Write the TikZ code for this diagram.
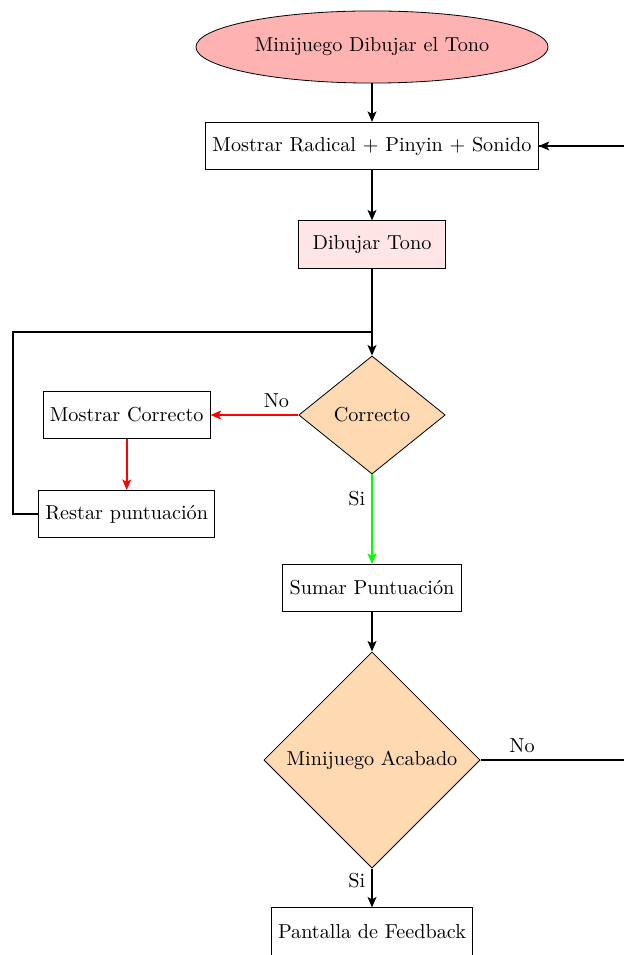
\documentclass[tikz,border=0pt]{standalone}
\usetikzlibrary{shapes.geometric,arrows.meta}

\tikzset{
  px/.style={x=0.495pt,y=-0.495pt},
  startnode/.style={ellipse,draw,fill=red!30,minimum width=174.3pt,minimum height=35.7pt},
  procbox/.style={rectangle,draw,minimum height=23.4pt},
  decision/.style={diamond,draw,fill=orange!30,aspect=1},
  flow/.style={thick,-{Stealth[length=5.2pt,width=4.4pt,inset=1.2pt]}},
  plain/.style={thick},
  lbl/.style={inner sep=3pt}
}

\begin{document}
\begin{tikzpicture}[px]
  \useasboundingbox (0,0) rectangle (623,955);

  % nodes of the flow
  \node[startnode] (start) at (372,47) {Minijuego Dibujar el Tono};
  \node[procbox] (show) at (372,146) {Mostrar Radical + Pinyin + Sonido};
  \node[procbox,fill=red!10,minimum width=72.5pt] (draw) at (372,244.5) {Dibujar Tono};
  \node[decision,minimum width=72.5pt] (ok) at (372,415) {Correcto};
  \node[procbox] (showok) at (126.7,415) {Mostrar Correcto};
  \node[procbox] (minus) at (126.7,514) {Restar puntuaci\'on};
  \node[procbox] (plus) at (372,588) {Sumar Puntuaci\'on};
  \node[decision] (done) at (372,760) {Minijuego Acabado};
  \node[procbox] (feedback) at (372,931.5) {Pantalla de Feedback};

  % helper points for the loops
  \coordinate (join) at (372,332);
  \coordinate (leftx) at (13,0);
  \coordinate (rightx) at (640,0);

  % main path
  \draw[flow] (start) -- (show);
  \draw[flow] (show) -- (draw);
  \draw[flow] (draw) -- (ok);

  % wrong answer branch
  \draw[flow,red] (ok.west) -- node[lbl,above,black,pos=0.25] {No} (showok.east);
  \draw[flow,red] (showok) -- (minus);
  \draw[plain] (minus.west) -- (leftx |- minus.west) |- (join);

  % right answer branch
  \draw[flow,green] (ok.south) -- node[lbl,left,black,pos=0.27] {Si} (plus.north);
  \draw[flow] (plus) -- (done);
  \draw[flow] (done.south) -- node[lbl,left,black,pos=0.3] {Si} (feedback.north);

  % back to the start of the round
  \draw[plain] (done.east) -- node[lbl,above,pos=0.26] {No} (rightx |- done.east)
    |- (show.east);
  \draw[flow] (rightx |- show.east) -- (show.east);
\end{tikzpicture}
\end{document}
